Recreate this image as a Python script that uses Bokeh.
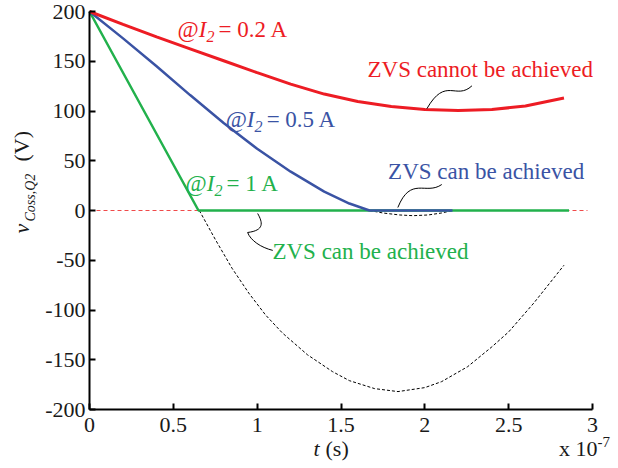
import math
from bokeh.plotting import figure
from bokeh.models import Range1d, FixedTicker, Label, LinearAxis
from bokeh.embed import file_html
from bokeh.resources import INLINE

# ---- data (t in units of 1e-7 s, v in volts) ----
T_RED = [0, 0.2, 0.4, 0.6, 0.8, 1.0, 1.2, 1.4, 1.6, 1.8, 2.0, 2.2, 2.4, 2.6, 2.83]
V_RED = [200, 187, 174.5, 162.5, 150.5, 138.5, 127, 117, 109.5, 104.5, 101.5, 100.5, 101.5, 105, 113]

T_BLUE = [0, 0.2, 0.4, 0.6, 0.8, 1.0, 1.2, 1.4, 1.55, 1.67, 2.165]
V_BLUE = [200, 173, 145, 116, 88, 62, 39, 19, 7, 0, 0]

T_GREEN = [0, 0.65, 2.86]
V_GREEN = [200, 0, 0]

T_DASH_G = [0.655, 0.75, 0.85, 0.95, 1.05, 1.15, 1.3, 1.45, 1.55, 1.7, 1.84, 2.0, 2.1, 2.255, 2.4, 2.5, 2.65, 2.83]
V_DASH_G = [0, -29, -58, -83, -105, -123, -145, -162, -171, -179, -182, -178, -172, -157, -137, -122, -93, -55]

T_DASH_B = [1.67, 1.75, 1.85, 1.93, 2.02, 2.1, 2.165]
V_DASH_B = [0, -2.5, -4.5, -5.2, -4.5, -2.5, 0]

T_ZERO = [0, 2.97]
V_ZERO = [0, 0]

X_TICKS = [0, 0.5, 1, 1.5, 2, 2.5, 3]
X_TICK_LABELS = ["0", "0.5", "1", "1.5", "2", "2.5", "3"]
Y_TICKS = [-200, -150, -100, -50, 0, 50, 100, 150, 200]
Y_TICK_LABELS = ["-200", "-150", "-100", "-50", "0", "50", "100", "150", "200"]

RED = "#ED1C24"
BLUE = "#3A53A4"
GREEN = "#22B14C"
INK = "#1a1a1a"
FONT = "Liberation Serif"

W, H = 618, 468
# plot box: t 0..3 -> x 89..592 px ; v 200..-200 -> y 11..409 px
SX = (592 - 89) / 3.0
SY = (409 - 11) / 400.0
x_range = Range1d(-89 / SX, 3 + (W - 592) / SX)
y_range = Range1d(-200 - (H - 409) / SY, 200 + 11 / SY)

p = figure(width=W, height=H, x_range=x_range, y_range=y_range,
           x_axis_type=None, y_axis_type=None,
           output_backend="svg", toolbar_location=None,
           min_border_left=0, min_border_right=0, min_border_top=0, min_border_bottom=0)
p.outline_line_color = None
p.grid.visible = False
p.background_fill_color = "white"
p.border_fill_color = "white"

xaxis = LinearAxis(fixed_location=-200, bounds=(0, 3), ticker=FixedTicker(ticks=X_TICKS),
                   major_label_overrides={t: s for t, s in zip(X_TICKS, X_TICK_LABELS)})
yaxis = LinearAxis(fixed_location=0, bounds=(-200, 200), ticker=FixedTicker(ticks=Y_TICKS),
                   major_label_overrides={t: s for t, s in zip(Y_TICKS, Y_TICK_LABELS)})
for ax in (xaxis, yaxis):
    ax.axis_line_width = 2
    ax.axis_line_color = "black"
    ax.major_tick_in = 6
    ax.major_tick_out = 0
    ax.major_tick_line_width = 2
    ax.major_tick_line_color = "black"
    ax.minor_tick_line_color = None
    ax.major_label_text_font = FONT
    ax.major_label_text_font_size = "22px"
    ax.major_label_text_color = INK
xaxis.major_label_standoff = 8
yaxis.major_label_standoff = 4
p.add_layout(xaxis, "below")
p.add_layout(yaxis, "left")

# ---- curves ----
p.line(T_ZERO, V_ZERO, line_color="#F04A4A", line_width=1, line_dash="4 3")
p.line(T_DASH_G, V_DASH_G, line_color="black", line_width=1, line_dash="3 2")
p.line(T_DASH_B, V_DASH_B, line_color="black", line_width=1, line_dash="3 2")
p.line(T_GREEN, V_GREEN, line_color=GREEN, line_width=2.5)
p.line(T_BLUE, V_BLUE, line_color=BLUE, line_width=2.5)
p.line(T_RED, V_RED, line_color=RED, line_width=3)

# ---- connectors ----
p.bezier(x0=[2.012], y0=[102.3], x1=[2.281], y1=[125.3], cx0=[2.125], cy0=[135.3], cx1=[2.185], cy1=[110.3],
         line_color="black", line_width=1)
p.bezier(x0=[1.839], y0=[3.0], x1=[2.101], y1=[26.1], cx0=[1.916], cy0=[35.1], cx1=[2.006], cy1=[15.0],
         line_color="black", line_width=1)
p.bezier(x0=[1.003], y0=[-3.0], x1=[0.943], y1=[-22.1], cx0=[1.033], cy0=[-12.0], cx1=[1.045], cy1=[-20.0],
         line_color="black", line_width=1)
p.bezier(x0=[0.943], y0=[-22.1], x1=[1.093], y1=[-40.1], cx0=[0.961], cy0=[-30.1], cx1=[1.021], cy1=[-37.1],
         line_color="black", line_width=1)


def lab(x, y, text, color, size=23, style="normal", xo=0, rotated=False):
    # (x, y) is the wanted baseline start; compensate the renderer's baseline drop
    shift = 0.3 * size
    if rotated:
        x -= shift / SX
    else:
        y += shift / SY
    p.add_layout(Label(x=x, y=y, text=text, text_color=color, text_font=FONT,
                       text_font_size=f"{size}px", text_font_style=style, x_offset=xo,
                       text_baseline="alphabetic", text_align="left",
                       angle=math.pi / 2 if rotated else 0))


def current_label(x, y, amps, color):
    lab(x, y, "@", color)
    lab(x, y, "I", color, style="italic", xo=21.2)
    lab(x, y - 5, "2", color, size=16, style="italic", xo=28.9)
    lab(x, y, "= " + amps + " A", color, xo=41)


current_label(0.525, 175.4, "0.2", RED)
current_label(0.812, 84.2, "0.5", BLUE)
current_label(0.573, 20.7, "1", GREEN)

lab(1.658, 134.3, "ZVS cannot be achieved", RED)
lab(1.781, 31.8, "ZVS can be achieved", BLUE)
lab(1.091, -48.4, "ZVS can be achieved", GREEN)

# axis titles
lab(1.336, -246.2, "t", INK, size=22, style="italic")
lab(1.336, -246.2, "(s)", INK, size=22, xo=12)
lab(2.80, -246.2, "x 10", INK, size=22)
lab(3.03, -237.0, "-7", INK, size=15)

lab(-0.364, -23.1, "v", INK, size=22, style="italic", rotated=True)
lab(-0.325, -11.1, "Coss,Q2", INK, size=14, style="italic", rotated=True)
lab(-0.364, 49.2, "(V)", INK, size=22, rotated=True)

open("out.html", "w").write(file_html(p, INLINE))
